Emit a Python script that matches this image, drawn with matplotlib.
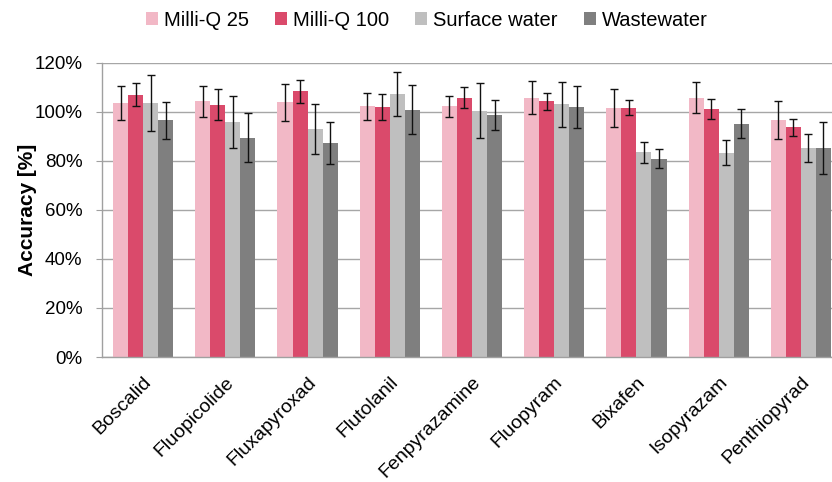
import matplotlib
matplotlib.use("Agg")
import matplotlib.pyplot as plt
import numpy as np
from matplotlib.ticker import FuncFormatter

categories = ["Boscalid", "Fluopicolide", "Fluxapyroxad", "Flutolanil", "Fenpyrazamine",
              "Fluopyram", "Bixafen", "Isopyrazam", "Penthiopyrad"]
series_names = ["Milli-Q 25", "Milli-Q 100", "Surface water", "Wastewater"]

mq25 = [103.6, 104.2, 103.8, 102.2, 102.2, 105.8, 101.5, 105.8, 96.5]
mq25_err = [6.9, 6.4, 7.6, 5.5, 4.2, 6.6, 7.6, 6.2, 7.8]
mq100 = [107.0, 102.9, 108.3, 101.9, 105.7, 104.3, 101.6, 101.1, 93.6]
mq100_err = [4.8, 6.2, 4.7, 5.2, 4.3, 3.4, 3.1, 4.1, 3.6]
surface = [103.5, 95.9, 92.8, 107.4, 100.4, 103.0, 83.4, 83.3, 85.3]
surface_err = [11.4, 10.5, 10.2, 9.0, 11.2, 9.2, 4.1, 5.2, 5.7]
waste = [96.5, 89.4, 87.2, 100.9, 98.6, 101.9, 80.9, 95.1, 85.3]
waste_err = [7.6, 10.0, 8.7, 9.9, 6.2, 8.4, 3.9, 5.9, 10.6]

values = [mq25, mq100, surface, waste]
errors = [mq25_err, mq100_err, surface_err, waste_err]
colors = ["#F2B8C6", "#DA4A6B", "#BFBFBF", "#7F7F7F"]

plt.rcParams['font.family'] = ['Liberation Sans', 'DejaVu Sans']

fig = plt.figure(figsize=(8.32, 4.82), dpi=100)
ax = fig.add_axes([102/832, 1-357/482, 740/832, (357-62.7)/482])

x = np.arange(len(categories))
bw = 0.183
for i, (v, e, c, n) in enumerate(zip(values, errors, colors, series_names)):
    ax.bar(x + (i - 1.5) * bw, v, bw, color=c, label=n, zorder=2,
           yerr=e, error_kw=dict(ecolor="#111111", elinewidth=1.0, capsize=3.2, capthick=1.0, zorder=3))

ax.set_xlim(-0.5, len(categories) - 0.5)
ax.set_ylim(0, 120)
ax.set_yticks(np.arange(0, 121, 20))
ax.yaxis.set_major_formatter(FuncFormatter(lambda v, p: f"{int(v)}%"))
ax.grid(axis='y', color="#A6A6A6", linewidth=1.0, zorder=0)
ax.set_axisbelow(True)
for s in ['top', 'right']:
    ax.spines[s].set_visible(False)
for s in ['left', 'bottom']:
    ax.spines[s].set_color("#A0A0A0")
    ax.spines[s].set_linewidth(1.0)
ax.tick_params(axis='y', length=4, color="#A0A0A0", labelsize=13.5, pad=10)
ax.tick_params(axis='x', length=0, labelsize=14, pad=12)
ax.set_xticks(x)
ax.set_xticklabels(categories, rotation=45, ha='right', rotation_mode='anchor')
ax.set_ylabel("Accuracy [%]", fontsize=15, fontweight='bold', labelpad=-2)

fig.legend(loc='center', bbox_to_anchor=(0.513, 1 - 20/482), ncol=4, frameon=False,
           fontsize=14.5, handlelength=0.6, handleheight=0.6, handletextpad=0.3,
           columnspacing=1.3)

fig.savefig("out.png", dpi=100)
